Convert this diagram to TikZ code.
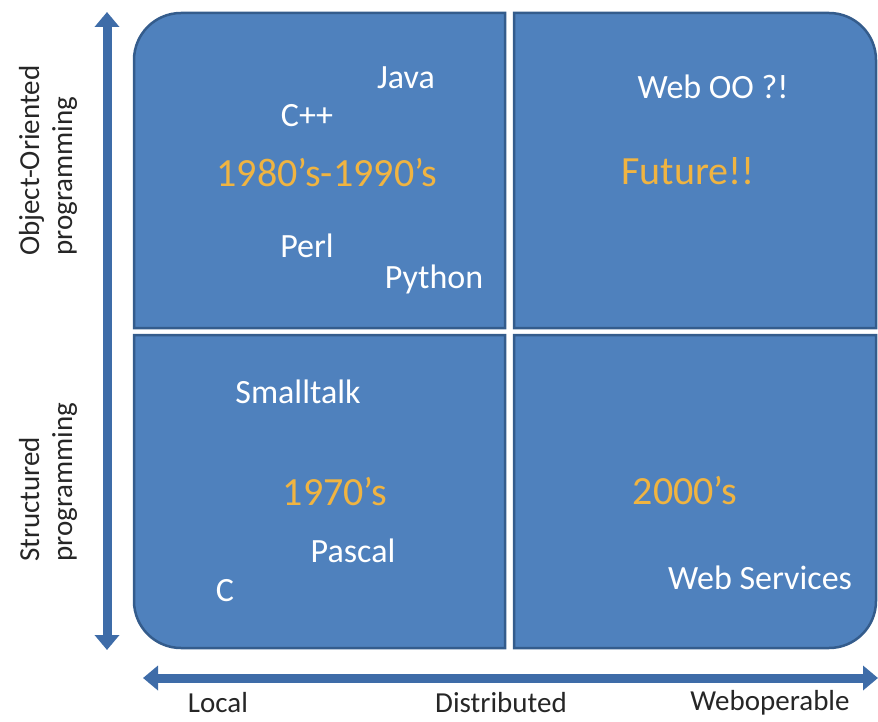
\documentclass[tikz,border=0pt]{standalone}
\usepackage{fontspec}
\setmainfont{Carlito}
\usetikzlibrary{arrows.meta}
\definecolor{quadblue}{RGB}{79,129,189}
\definecolor{quadedge}{RGB}{52,92,140}
\definecolor{axisblue}{RGB}{62,108,168}
\definecolor{eragold}{RGB}{240,180,65}

\begin{document}
\begin{tikzpicture}[
            x=1pt, y=-1pt,
            quadrant/.style={fill=quadblue, draw=quadedge, line width=2.5pt},
            axis/.style={
                draw=axisblue, line width=9pt,
                {Triangle[width=24pt,length=15pt]}-{Triangle[width=24pt,length=15pt]}
            },
            lang/.style={text=white, font=\fontsize{34}{40}\selectfont, anchor=base, inner sep=0pt},
            era/.style={text=eragold, font=\fontsize{40}{48}\selectfont, anchor=base, inner sep=0pt},
            axislabel/.style={text=black!85, font=\fontsize{29}{33}\selectfont, inner sep=0pt}
        ]
        \useasboundingbox (0,0) rectangle (878,722);
        \def\r{47}

        % four quadrants, only the outer corner rounded
        \draw[quadrant] (505,328) -- (134,328) -- (134,13+\r) arc[start angle=180, end angle=270, radius=\r] -- (505,13) -- cycle;
        \draw[quadrant] (514,328) -- (514,13) -- (876-\r,13) arc[start angle=270, end angle=360, radius=\r] -- (876,328) -- cycle;
        \draw[quadrant] (505,335) -- (134,335) -- (134,648-\r) arc[start angle=180, end angle=90, radius=\r] -- (505,648) -- cycle;
        \draw[quadrant] (514,335) -- (876,335) -- (876,648-\r) arc[start angle=0, end angle=90, radius=\r] -- (514,648) -- cycle;

        % axes
        \coordinate (vtop) at (107,12);
        \coordinate (vbottom) at (107,650);
        \coordinate (hleft) at (143,678);
        \coordinate (hright) at (878,678);
        \draw[axis] (vtop) -- (vbottom);
        \draw[axis] (hleft) -- (hright);

        \node (oolabel) at (48,256) [axislabel, rotate=90, anchor=west, align=left] {Object-Oriented\\programming};
        \node (structlabel) at (48,562) [axislabel, rotate=90, anchor=west, align=left] {Structured\\programming};
        \node (local) at (218,712) [axislabel, anchor=base] {Local};
        \node (distributed) at (501,712) [axislabel, anchor=base] {Distributed};
        \node (weboperable) at (770,710) [axislabel, anchor=base] {Weboperable};

        % top left
        \node (java) at (406,89) [lang] {Java};
        \node (cpp) at (307,127) [lang] {C++};
        \node (eightnine) at (327,187) [era] {1980’s-1990’s};
        \node (perl) at (307,258) [lang] {Perl};
        \node (python) at (434,288) [lang] {Python};

        % top right
        \node (weboo) at (713,99) [lang] {Web OO ?!};
        \node (future) at (688,185) [era] {Future!!};

        % bottom left
        \node (smalltalk) at (298,403) [lang] {Smalltalk};
        \node (seventies) at (335,505) [era] {1970’s};
        \node (pascal) at (353,562) [lang] {Pascal};
        \node (clang) at (225,601) [lang] {C};

        % bottom right
        \node (twothousand) at (685,504) [era] {2000’s};
        \node (webservices) at (760,589) [lang] {Web Services};
    \end{tikzpicture}
\end{document}
